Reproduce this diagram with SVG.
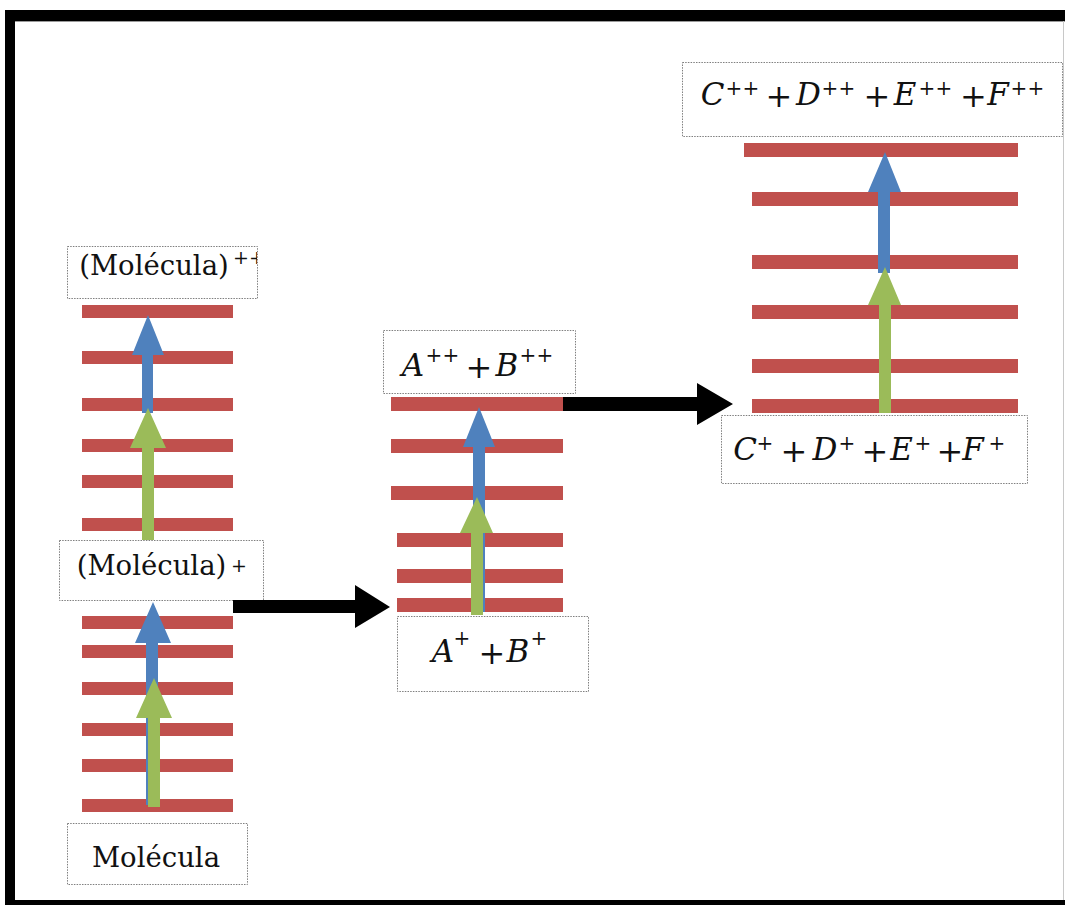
<svg xmlns="http://www.w3.org/2000/svg" width="1065" height="905" viewBox="0 0 1065 905">
  <style>
    .bar { fill: #C0504D; }
    .up-blue { fill: #4F81BD; }
    .up-green { fill: #9BBB59; }
    .conn { fill: #000000; }
    .box { fill: #FFFFFF; stroke: #7F7F7F; stroke-width: 1; stroke-dasharray: 1.5 1.2; }
    .word { font-family: "DejaVu Serif", "Liberation Serif", serif; font-size: 27.5px; fill: #111111; text-anchor: middle; }
    .mi { font-family: "DejaVu Serif", "Liberation Serif", serif; font-style: italic; font-size: 31px; fill: #111111; text-anchor: middle; }
    .op { font-family: "DejaVu Serif", "Liberation Serif", serif; font-size: 32px; fill: #111111; text-anchor: middle; }
    .sup { font-family: "DejaVu Serif", "Liberation Serif", serif; font-size: 20px; fill: #111111; text-anchor: middle; }
    .supw { font-family: "DejaVu Serif", "Liberation Serif", serif; font-size: 19px; fill: #111111; text-anchor: middle; }
  </style>
  <defs>
    <clipPath id="clip-top-left">
      <rect x="67" y="246" width="190" height="53"/>
    </clipPath>
  </defs>

  <!-- page frame -->
  <g id="frame">
    <rect x="5" y="10" width="1060" height="895" fill="#000000"/>
    <rect x="15" y="21" width="1050" height="879" fill="#FFFFFF"/>
    <line x1="15" y1="21.5" x2="1065" y2="21.5" stroke="#9A9A9A" stroke-width="1"/>
    <line x1="1063.5" y1="21" x2="1063.5" y2="900" stroke="#C8C8C8" stroke-width="1"/>
  </g>

  <!-- level stack: neutral molecule -> single ion -->
  <g id="stack-molecule">
    <rect class="bar" x="82" y="616" width="151" height="13"/>
    <rect class="bar" x="82" y="645" width="151" height="13"/>
    <rect class="bar" x="82" y="682" width="151" height="13"/>
    <rect class="bar" x="82" y="723" width="151" height="13"/>
    <rect class="bar" x="82" y="759" width="151" height="13"/>
    <rect class="bar" x="82" y="799" width="151" height="13"/>
    <polygon class="up-blue" points="146,805 146,643 135,643 153,602 171,643 158,643 158,805"/>
    <polygon class="up-green" points="148,807 148,718 136,718 154,678 172,718 160,718 160,807"/>
  </g>

  <!-- level stack: single ion -> double ion -->
  <g id="stack-ion">
    <rect class="bar" x="82" y="305" width="151" height="13"/>
    <rect class="bar" x="82" y="351" width="151" height="13"/>
    <rect class="bar" x="82" y="398" width="151" height="13"/>
    <rect class="bar" x="82" y="439" width="151" height="13"/>
    <rect class="bar" x="82" y="475" width="151" height="13"/>
    <rect class="bar" x="82" y="518" width="151" height="13"/>
    <polygon class="up-blue" points="142,413 142,355 132,355 148,315 164,355 153,355 153,413"/>
    <polygon class="up-green" points="142,540 142,448 130,448 148,408 166,448 154,448 154,540"/>
  </g>

  <!-- level stack: A, B fragments -->
  <g id="stack-ab">
    <rect class="bar" x="391" y="397" width="172" height="14"/>
    <rect class="bar" x="391" y="439" width="172" height="14"/>
    <rect class="bar" x="391" y="486" width="172" height="14"/>
    <rect class="bar" x="397" y="533" width="166" height="14"/>
    <rect class="bar" x="397" y="569" width="166" height="14"/>
    <rect class="bar" x="397" y="598" width="166" height="14"/>
    <polygon class="up-blue" points="473,612 473,447 463,447 479,407 495,447 485,447 485,612"/>
    <polygon class="up-green" points="471,615 471,533 460,533 477,497 493,533 483,533 483,615"/>
  </g>

  <!-- level stack: C, D, E, F fragments -->
  <g id="stack-cdef">
    <rect class="bar" x="744" y="143" width="274" height="14"/>
    <rect class="bar" x="752" y="192" width="266" height="14"/>
    <rect class="bar" x="752" y="255" width="266" height="14"/>
    <rect class="bar" x="752" y="305" width="266" height="14"/>
    <rect class="bar" x="752" y="359" width="266" height="14"/>
    <rect class="bar" x="752" y="399" width="266" height="14"/>
    <polygon class="up-blue" points="878,273 878,192 868,192 885,152 901,192 890,192 890,273"/>
    <polygon class="up-green" points="879,413 879,305 868,305 885,267 901,305 891,305 891,413"/>
  </g>

  <!-- labels -->
  <g id="label-molecule">
    <rect class="box" x="67.5" y="823.5" width="180" height="61"/>
    <text class="word" x="156" y="867">Molécula</text>
  </g>

  <g id="label-ion">
    <rect class="box" x="59.5" y="540.5" width="204" height="60"/>
    <text class="word" x="151.5" y="575">(Molécula)</text>
    <text class="supw" x="239" y="572">+</text>
  </g>

  <g id="label-double-ion">
    <rect class="box" x="67.5" y="246.5" width="190" height="52"/>
    <text class="word" x="154" y="275">(Molécula)</text>
    <g clip-path="url(#clip-top-left)">
      <text class="supw" x="241" y="264">+</text>
      <text class="supw" x="257" y="264">+</text>
    </g>
  </g>

  <g id="label-ab-single">
    <rect class="box" x="397.5" y="616.5" width="191" height="75"/>
    <text class="mi" x="443" y="662">A</text>
    <text class="sup" x="462" y="645">+</text>
    <text class="op" x="492" y="664">+</text>
    <text class="mi" x="518" y="662">B</text>
    <text class="sup" x="539" y="645">+</text>
  </g>

  <g id="label-ab-double">
    <rect class="box" x="383.5" y="330.5" width="192" height="63"/>
    <text class="mi" x="413" y="376">A</text>
    <text class="sup" x="434" y="362">+</text>
    <text class="sup" x="451" y="362">+</text>
    <text class="op" x="479" y="378">+</text>
    <text class="mi" x="507" y="376">B</text>
    <text class="sup" x="528" y="362">+</text>
    <text class="sup" x="545" y="362">+</text>
  </g>

  <g id="label-cdef-single">
    <rect class="box" x="721.5" y="415.5" width="306" height="68"/>
    <text class="mi" x="745" y="460">C</text>
    <text class="sup" x="765" y="450">+</text>
    <text class="op" x="794" y="462">+</text>
    <text class="mi" x="825" y="460">D</text>
    <text class="sup" x="847" y="450">+</text>
    <text class="op" x="875" y="462">+</text>
    <text class="mi" x="901.5" y="460">E</text>
    <text class="sup" x="923" y="450">+</text>
    <text class="op" x="950" y="462">+</text>
    <text class="mi" x="973" y="460">F</text>
    <text class="sup" x="997" y="450">+</text>
  </g>

  <g id="label-cdef-double">
    <rect class="box" x="682.5" y="62.5" width="380" height="74"/>
    <text class="mi" x="712.5" y="105">C</text>
    <text class="sup" x="734" y="95">+</text>
    <text class="sup" x="751" y="95">+</text>
    <text class="op" x="779" y="107">+</text>
    <text class="mi" x="808.5" y="105">D</text>
    <text class="sup" x="830" y="95">+</text>
    <text class="sup" x="847" y="95">+</text>
    <text class="op" x="877" y="107">+</text>
    <text class="mi" x="905" y="105">E</text>
    <text class="sup" x="927" y="95">+</text>
    <text class="sup" x="944" y="95">+</text>
    <text class="op" x="973.5" y="107">+</text>
    <text class="mi" x="998" y="105">F</text>
    <text class="sup" x="1019" y="95">+</text>
    <text class="sup" x="1036" y="95">+</text>
  </g>

  <!-- fragmentation connectors -->
  <g id="connectors">
    <polygon class="conn" points="233,600 355,600 355,585 390,607 355,628 355,613 233,613"/>
    <polygon class="conn" points="563,397 697,397 697,383 733,404 697,425 697,411 563,411"/>
  </g>
</svg>
